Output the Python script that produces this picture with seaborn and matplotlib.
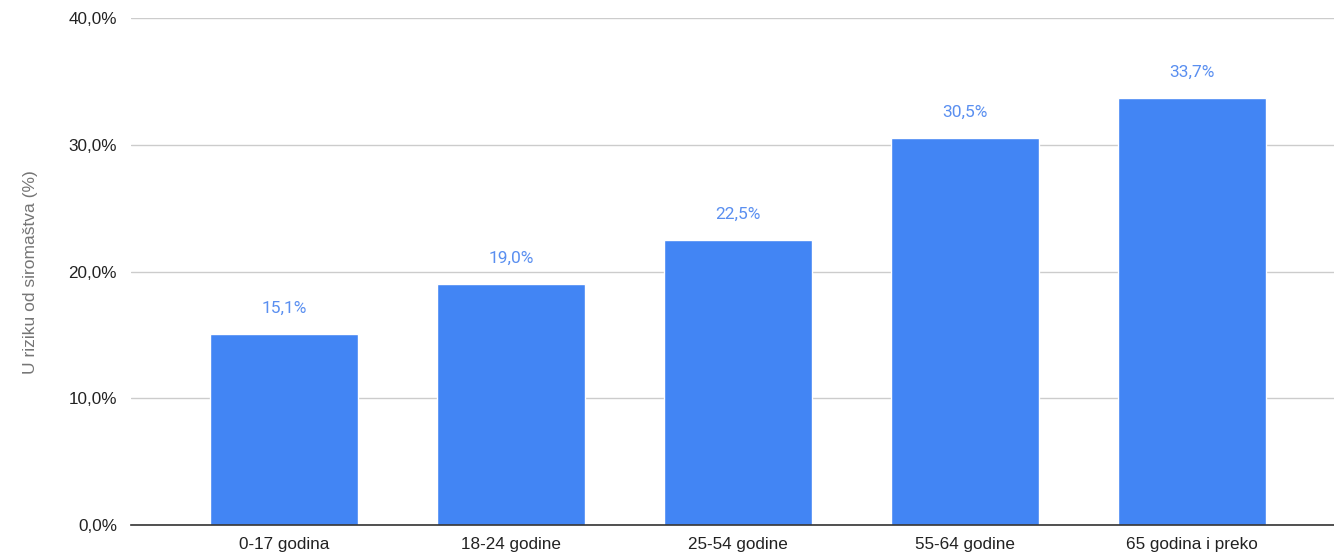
import pandas as pd
import matplotlib.pyplot as plt
import seaborn as sns
from matplotlib.ticker import FuncFormatter

# Data
categories = ["0-17 godina", "18-24 godine", "25-54 godine", "55-64 godine", "65 godina i preko"]
values = [15.1, 19.0, 22.5, 30.5, 33.7]
y_ticks = [0, 10, 20, 30, 40]

df = pd.DataFrame({"grupa": categories, "rizik": values})

sns.set_theme(style="white")
plt.rcParams['font.family'] = ['Liberation Sans', 'DejaVu Sans']

fig = plt.figure(figsize=(13.34, 5.56), dpi=100)
ax = fig.add_axes([131 / 1334, 1 - 525 / 556, 1 - 131 / 1334, (525 - 18) / 556])

sns.barplot(data=df, x="grupa", y="rizik", color="#4285F4", saturation=1,
            width=0.652, ax=ax, zorder=3)

ax.set_xlim(-0.674, 4.626)
ax.set_ylim(0, 40)
ax.set_yticks(y_ticks)
ax.yaxis.set_major_formatter(FuncFormatter(lambda v, p: f"{v:.1f}%".replace(".", ",")))
ax.grid(axis="y", color="#cccccc", linewidth=1, zorder=0)
ax.grid(axis="x", visible=False)
for s in ["top", "right", "left"]:
    ax.spines[s].set_visible(False)
ax.spines["bottom"].set_color("#333333")
ax.spines["bottom"].set_linewidth(1.2)
ax.spines["bottom"].set_zorder(4)
ax.tick_params(axis="both", length=0, labelsize=12.3, colors="#222222")
ax.tick_params(axis="y", pad=10)
ax.tick_params(axis="x", pad=9)

ax.set_xlabel("")
ax.set_ylabel("")
fig.text(30 / 1334, 1 - 272 / 556, "U riziku od siromaštva (%)", rotation=90,
         ha="center", va="center", fontsize=12.5, color="#757575")

# Value labels
for i, v in enumerate(values):
    ax.annotate(f"{v:.1f}%".replace(".", ","), (i, v), xytext=(0, 18.5),
                textcoords="offset points", ha="center", va="center",
                fontsize=12.5, color="#5a8ff0", family=["Roboto", "DejaVu Sans"])

fig.savefig("out.png", dpi=100)
